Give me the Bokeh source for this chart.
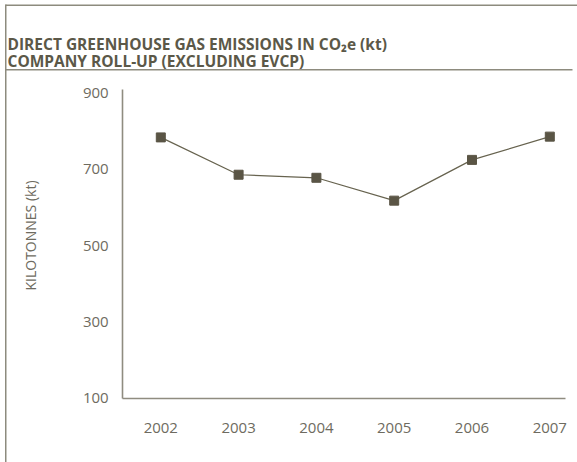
from bokeh.plotting import figure
from bokeh.models import Label, Range1d, FixedTicker
from bokeh.embed import file_html
from bokeh.resources import INLINE
import math

years = [2002, 2003, 2004, 2005, 2006, 2007]
emissions = [784, 686, 678, 618, 725, 786]
y_ticks = [100, 300, 500, 700, 900]
title_lines = ["DIRECT GREENHOUSE GAS EMISSIONS IN CO\u2082e (kt)",
               "COMPANY ROLL-UP (EXCLUDING EVCP)"]
y_label = "KILOTONNES (kt)"

W, H = 577, 462
# axis extents
x_lo, x_hi = 2001.51, 2007.2
y_lo, y_hi = 100, 910
# pixel scale: years at x 160.3 .. 549.3, values 100 at y 397.5, 0.381 px/unit
PX_YEAR = 77.8
PX_UNIT = 0.381
x_start = 2002 - 160.3 / PX_YEAR
x_end = 2002 + (W - 160.3) / PX_YEAR
y_start = 100 - (H - 397.5) / PX_UNIT
y_end = 100 + 397.5 / PX_UNIT

p = figure(width=W, height=H, output_backend="svg", toolbar_location=None,
           x_range=Range1d(x_start, x_end), y_range=Range1d(y_start, y_end),
           min_border=0)
p.outline_line_color = None
p.xgrid.grid_line_color = None
p.ygrid.grid_line_color = None
p.background_fill_color = "white"
p.border_fill_color = "white"

axis_col = "#8f8c80"
tick_col = "#6e6b60"
for ax in (p.xaxis, p.yaxis):
    ax.axis_line_color = axis_col
    ax.axis_line_width = 1.6
    ax.major_tick_line_color = None
    ax.minor_tick_line_color = None
    ax.major_label_text_font = "Open Sans"
    ax.major_label_text_font_size = "15px"
    ax.major_label_text_color = tick_col
p.xaxis.ticker = FixedTicker(ticks=years)
p.yaxis.ticker = FixedTicker(ticks=y_ticks)
p.xaxis.fixed_location = y_lo
p.yaxis.fixed_location = x_lo
p.xaxis.bounds = (x_lo, x_hi)
p.yaxis.bounds = (y_lo, y_hi)
p.xaxis.major_label_standoff = 19
p.yaxis.major_label_standoff = 8

line_col = "#67634f"
p.line(years, emissions, line_color=line_col, line_width=1.2)
p.scatter(years, emissions, marker="square", size=9, fill_color="#5a5545", line_color="#5a5545")


def dx(px):
    return x_start + px / PX_YEAR


def dy(py):
    return y_end - py / PX_UNIT


def sx(px):
    return px


def sy(py):
    return H - py


border_col = "#8d8b7e"
# frame decoration: top border, left border, title underline (picture pixels)
deco = [(5, 4.75, 577, 4.75), (5.25, 4, 5.25, 462), (5, 69.25, 572, 69.25)]
p.segment(x0=[dx(a) for a, _, _, _ in deco], y0=[dy(b) for _, b, _, _ in deco],
          x1=[dx(c) for _, _, c, _ in deco], y1=[dy(d) for _, _, _, d in deco],
          line_color=border_col, line_width=1.5)

title_col = "#5b5848"
for i, txt in enumerate(title_lines):
    p.add_layout(Label(x=sx(7), y=sy(43.5 + 16.5 * i), x_units="screen", y_units="screen",
                       text=txt, text_font="Open Sans", text_font_style="bold",
                       text_font_size="15.5px", text_color=title_col,
                       text_baseline="alphabetic", text_align="left"))

p.add_layout(Label(x=sx(30), y=sy(235), x_units="screen", y_units="screen",
                   text=y_label, angle=math.pi / 2, text_font="Open Sans",
                   text_font_size="14px", text_color=tick_col,
                   text_align="center", text_baseline="middle"))

open("out.html", "w").write(file_html(p, INLINE))
